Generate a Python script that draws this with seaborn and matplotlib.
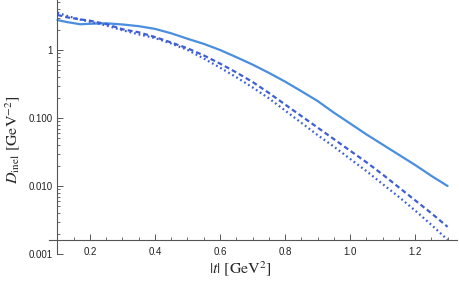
import pandas as pd
import seaborn as sns
import matplotlib.pyplot as plt
from matplotlib.ticker import FixedLocator, LogLocator, NullFormatter, MultipleLocator

# |t| values (GeV^2)
t_vals = [0.10, 0.13, 0.17, 0.20, 0.25, 0.30, 0.35, 0.40, 0.45, 0.50, 0.55, 0.60, 0.65,
          0.70, 0.75, 0.80, 0.85, 0.90, 0.95, 1.00, 1.05, 1.10, 1.15, 1.20, 1.25, 1.30]

# D_inel curves (GeV^-2)
d_solid = [2.754, 2.570, 2.388, 2.427, 2.466, 2.371, 2.239, 2.042, 1.758, 1.462, 1.230,
           1.000, 0.785, 0.610, 0.462, 0.343, 0.248, 0.178, 0.120, 0.0832, 0.0575,
           0.0407, 0.0288, 0.0204, 0.0141, 0.0100]
d_dashed = [3.273, 3.020, 2.818, 2.692, 2.399, 2.018, 1.820, 1.549, 1.288, 1.059, 0.832,
            0.631, 0.468, 0.339, 0.234, 0.158, 0.107, 0.0724, 0.0490, 0.0331, 0.0224,
            0.0148, 0.00955, 0.00617, 0.00398, 0.00251]
d_dotted = [3.540, 3.162, 2.799, 2.600, 2.291, 1.950, 1.698, 1.496, 1.245, 1.000, 0.750,
            0.550, 0.398, 0.282, 0.195, 0.129, 0.0851, 0.0562, 0.0380, 0.0251, 0.0166,
            0.0107, 0.00692, 0.00437, 0.00269, 0.00162]

ytick_vals = [1, 0.1, 0.01, 0.001]
ytick_labels = ["1", "0.100", "0.010", "0.001"]
xtick_vals = [0.2, 0.4, 0.6, 0.8, 1.0, 1.2]
xtick_labels = ["0.2", "0.4", "0.6", "0.8", "1.0", "1.2"]

df = pd.DataFrame({"t": t_vals, "solid": d_solid, "dashed": d_dashed, "dotted": d_dotted})

sns.set_theme(style="ticks")
plt.rcParams["font.family"] = ["Liberation Sans", "DejaVu Sans"]
plt.rcParams["mathtext.fontset"] = "stix"

fig = plt.figure(figsize=(4.6, 2.84), dpi=100)
ax = fig.add_axes([49 / 460, 30 / 284, 408 / 460, 254 / 284])

light = "#4a8ee0"
dark = "#3d5fd6"
sns.lineplot(data=df, x="t", y="solid", ax=ax, color=light, linewidth=1.6)
sns.lineplot(data=df, x="t", y="dashed", ax=ax, color=dark, linewidth=1.6,
             linestyle=(0, (2.2, 1.4)))
sns.lineplot(data=df, x="t", y="dotted", ax=ax, color=dark, linewidth=1.6,
             linestyle=(0, (0.8, 1.3)))

ax.set_yscale("log")
ax.set_xlim(0.074, 1.329)
ax.set_ylim(0.001, 5.43)

# axes crossing at (0.1, 0.0016)
ax.spines["top"].set_visible(False)
ax.spines["right"].set_visible(False)
ax.spines["left"].set_position(("data", 0.1))
ax.spines["bottom"].set_position(("data", 0.0016))
for s in ("left", "bottom"):
    ax.spines[s].set_color("#555555")
    ax.spines[s].set_linewidth(0.8)

ax.yaxis.set_major_locator(FixedLocator(ytick_vals))
ax.set_yticklabels(ytick_labels, fontfamily="Liberation Sans")
ax.yaxis.set_minor_locator(LogLocator(base=10, subs=range(2, 10)))
ax.yaxis.set_minor_formatter(NullFormatter())
ax.xaxis.set_major_locator(FixedLocator(xtick_vals))
ax.set_xticklabels(xtick_labels, fontfamily="Liberation Sans")
ax.xaxis.set_minor_locator(MultipleLocator(0.05))

ax.tick_params(axis="both", which="major", direction="in", length=4, width=0.7,
               color="#555555", labelsize=7, labelcolor="#222222")
ax.tick_params(axis="both", which="minor", direction="in", length=2.2, width=0.6,
               color="#555555")
ax.tick_params(axis="x", which="major", pad=5)
ax.tick_params(axis="y", which="major", pad=3.5)

ax.set_xlabel(r"$|t|\ [\mathrm{GeV}^{2}]$", fontsize=11.5)
ax.set_ylabel(r"$D_{\mathrm{inel}}\ [\mathrm{GeV}^{-2}]$", fontsize=11.5)
ax.xaxis.set_label_coords(0.47, -0.02)
ax.yaxis.set_label_coords(-0.066, 0.45)

plt.savefig("out.png", dpi=100)
